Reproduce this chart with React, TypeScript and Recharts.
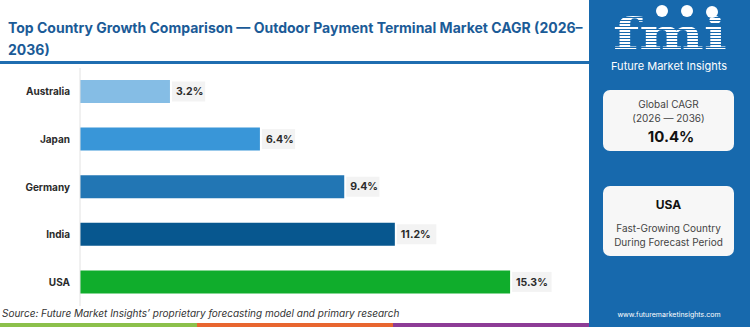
import React from "react";
import { Bar, BarChart, Cell, LabelList, XAxis, YAxis } from "recharts";

const countries = ["Australia", "Japan", "Germany", "India", "USA"];
const cagr = [3.2, 6.4, 9.4, 11.2, 15.3];
const barColors = ["#85bde5", "#3996d8", "#2276b4", "#07578f", "#10ad2c"];
const footerStrip = ["#8cc04b", "#e8662f", "#8d3c96"];

const FONT = "Inter, 'Open Sans', sans-serif";
const PANEL_BLUE = "#1769ad";

const data = countries.map((name, i) => ({ name, value: cagr[i] }));

function ValueLabel(props: any) {
  const { x, y, width, height, value } = props;
  const text = `${value}%`;
  const bx = x + width + 2;
  const bw = text.length * 6.3 + 8;
  const cy = y + height / 2;
  return (
    <g>
      <rect x={bx} y={cy - 10} width={bw} height={20} fill="#f3f3f3" />
      <text x={bx + 4} y={cy} dy="0.35em" fontSize={10.5} fontWeight={700} fill="#2b2b2b" fontFamily={FONT}>
        {text}
      </text>
    </g>
  );
}

function SidePanel() {
  return (
    <svg width={161} height={327} style={{ position: "absolute", left: 589, top: 0 }}>
      <defs>
        <pattern id="stripes" width="4" height="3" patternUnits="userSpaceOnUse">
          <rect width="4" height="2" fill="#ffffff" />
        </pattern>
      </defs>
      <rect width={161} height={327} fill={PANEL_BLUE} />
      <circle cx={73} cy={11} r={6} fill="#fff" />
      <circle cx={98} cy={11} r={6} fill="#fff" />
      <circle cx={123} cy={12} r={6} fill="#fff" />
      <text x={24} y={49} textLength={114} lengthAdjust="spacingAndGlyphs" fontSize={42} fontWeight={700} fontFamily="'DejaVu Serif', serif" fill="url(#stripes)">
        fmi
      </text>
      <text x={80} y={70} textAnchor="middle" fontSize={11} fill="#fff" fontFamily={FONT}>
        Future Market Insights
      </text>
      <rect x={14} y={90} width={131} height={61} rx={7} fill="#f7f7f7" />
      <text x={79.5} y={108} textAnchor="middle" fontSize={10} fill="#444" fontFamily={FONT}>Global CAGR</text>
      <text x={79.5} y={122} textAnchor="middle" fontSize={10} fill="#444" fontFamily={FONT}>(2026 — 2036)</text>
      <text x={82} y={142} textAnchor="middle" fontSize={15} fontWeight={700} fill="#111" fontFamily={FONT}>10.4%</text>
      <rect x={14} y={186} width={131} height={70} rx={7} fill="#f7f7f7" />
      <text x={79.5} y={209} textAnchor="middle" fontSize={12} fontWeight={700} fill="#111" fontFamily={FONT}>USA</text>
      <text x={79.5} y={232} textAnchor="middle" fontSize={10} fill="#444" fontFamily={FONT}>Fast-Growing Country</text>
      <text x={79.5} y={246} textAnchor="middle" fontSize={10} fill="#444" fontFamily={FONT}>During Forecast Period</text>
      <text x={80} y={317} textAnchor="middle" fontSize={7} fill="#fff" fontFamily={FONT}>www.futuremarketinsights.com</text>
    </svg>
  );
}

export default function App() {
  return (
    <div style={{ position: "fixed", left: 0, top: 0, width: 750, height: 327, background: "#fff", overflow: "hidden", fontFamily: FONT }}>
      <div style={{ position: "absolute", left: 8, top: 17, color: "#1b5b97", fontSize: 14, fontWeight: 700, lineHeight: "22px", whiteSpace: "nowrap" }}>
        Top Country Growth Comparison — Outdoor Payment Terminal Market CAGR (2026–
        <br />
        2036)
      </div>
      <div style={{ position: "absolute", left: 0, top: 61, width: 589, height: 3, background: "#1f6db0" }} />
      <div style={{ position: "absolute", left: 0, top: 0 }}>
        <BarChart
          width={590}
          height={327}
          data={data}
          layout="vertical"
          margin={{ top: 68, right: 4, bottom: 21, left: 0 }}
          barCategoryGap={0}
        >
          <XAxis type="number" domain={[0, 18]} hide />
          <YAxis
            type="category"
            dataKey="name"
            width={80}
            axisLine={{ stroke: "#e2e2e2" }}
            tickLine={false}
            tickSize={0}
            tickMargin={10}
            tick={{ fontSize: 10, fontWeight: 700, fill: "#2b2b2b", fontFamily: FONT }}
          />
          <Bar dataKey="value" barSize={23} isAnimationActive={false}>
            {data.map((d, i) => (
              <Cell key={d.name} fill={barColors[i]} />
            ))}
            <LabelList dataKey="value" content={ValueLabel} />
          </Bar>
        </BarChart>
      </div>
      <div style={{ position: "absolute", left: 2, top: 307, fontSize: 10, fontStyle: "italic", color: "#333" }}>
        Source: Future Market Insights’ proprietary forecasting model and primary research
      </div>
      {footerStrip.map((c, i) => (
        <div key={c} style={{ position: "absolute", left: i * 196.5, top: 323, width: 196.5, height: 4, background: c }} />
      ))}
      <SidePanel />
    </div>
  );
}
